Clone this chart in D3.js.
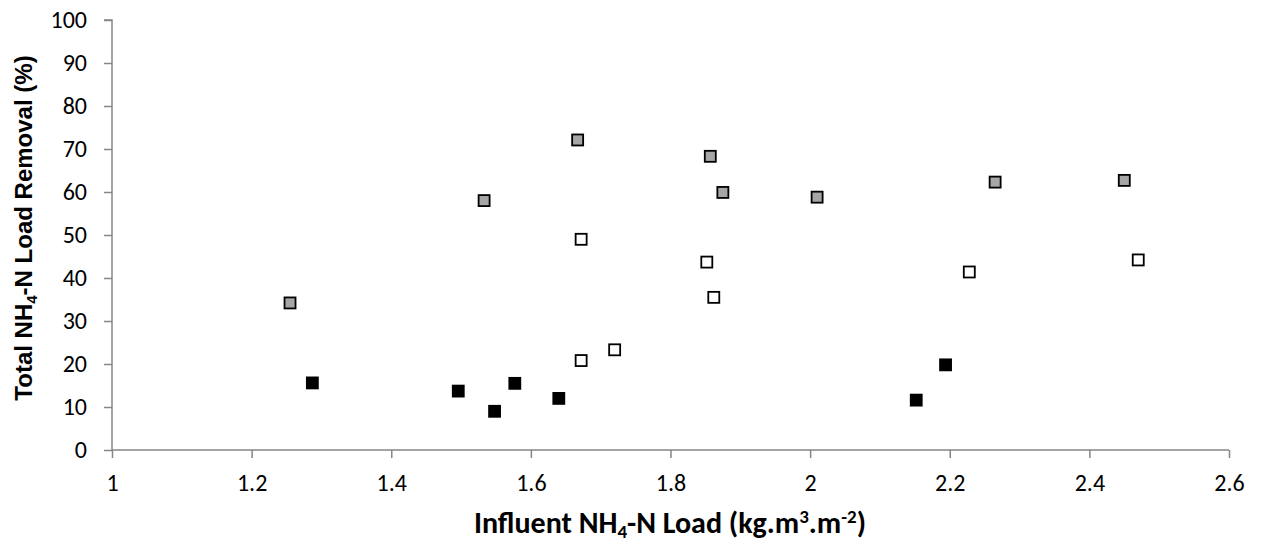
<!DOCTYPE html>
<html>
<head>
<meta charset="utf-8">
<script src="https://cdn.jsdelivr.net/npm/d3@7"></script>
<style>
  body { margin: 0; background: #fff; }
  text { font-family: Carlito, Calibri, Lato, sans-serif; fill: #000; }
</style>
</head>
<body>
<svg class="chart" width="1264" height="543"></svg>
<script>
// series values (x = influent load, y = removal %)
var greyX  = [1.255, 1.533, 1.667, 1.857, 1.875, 2.01, 2.265, 2.45];
var greyY  = [34.2, 58.0, 72.1, 68.3, 59.9, 58.8, 62.3, 62.7];
var whiteX = [1.672, 1.852, 1.862, 1.672, 1.72, 2.228, 2.47];
var whiteY = [49.0, 43.7, 35.5, 20.8, 23.3, 41.4, 44.2];
var blackX = [1.287, 1.496, 1.548, 1.577, 1.64, 2.152, 2.194];
var blackY = [15.6, 13.7, 9.0, 15.5, 12.0, 11.6, 19.8];

// tick labels
var xTicks = [1, 1.2, 1.4, 1.6, 1.8, 2, 2.2, 2.4, 2.6];
var yTicks = [0, 10, 20, 30, 40, 50, 60, 70, 80, 90, 100];

var svg = d3.select("svg.chart");

var x = d3.scaleLinear().domain([1, 2.6]).range([112, 1229]);
var y = d3.scaleLinear().domain([0, 100]).range([450, 20]);

// axes
var xAxis = svg.append("g")
    .attr("transform", "translate(0," + y(0) + ")")
    .call(d3.axisBottom(x).tickValues(xTicks).tickSize(8).tickPadding(16)
        .tickFormat(d3.format("")));
var yAxis = svg.append("g")
    .attr("transform", "translate(" + x(1) + ",0)")
    .call(d3.axisLeft(y).tickValues(yTicks).tickSize(8).tickPadding(17));

[xAxis, yAxis].forEach(function(g) {
    g.attr("font-size", null).attr("font-family", null);
    g.select(".domain").attr("stroke", "#868686").attr("stroke-width", 1.5);
    g.selectAll(".tick line").attr("stroke", "#868686").attr("stroke-width", 1.5);
    g.selectAll(".tick text").style("font-size", "24px")
        .style("font-family", "Carlito, Calibri, Lato, sans-serif").attr("fill", "#000");
});
// plain axis lines, no outer ticks
yAxis.select(".domain").attr("d", "M-8," + y(100) + "H0V" + y(0));
xAxis.select(".domain").attr("d", "M" + x(1) + ",0H" + x(2.6));

// markers
function drawSeries(xs, ys, fill) {
    var pts = xs.map(function(d, i) { return [d, ys[i]]; });
    svg.append("g").selectAll("rect")
        .data(pts)
        .enter()
        .append("rect")
        .attr("x", function(d) { return x(d[0]) - 5.5; })
        .attr("y", function(d) { return y(d[1]) - 5.5; })
        .attr("width", 11)
        .attr("height", 11)
        .attr("fill", fill)
        .attr("stroke", "#000")
        .attr("stroke-width", 1.8);
}
drawSeries(greyX, greyY, "#a6a6a6");
drawSeries(whiteX, whiteY, "#ffffff");
drawSeries(blackX, blackY, "#000000");

// axis titles
var xt = svg.append("text")
    .attr("x", 670).attr("y", 533)
    .attr("text-anchor", "middle")
    .style("font-size", "30px").style("font-weight", "bold");
xt.append("tspan").text("Influent NH");
xt.append("tspan").text("4").attr("dy", 5).style("font-size", "19px");
xt.append("tspan").text("-N Load (kg.m").attr("dy", -5);
xt.append("tspan").text("3").attr("dy", -10).style("font-size", "19px");
xt.append("tspan").text(".m").attr("dy", 10);
xt.append("tspan").text("-2").attr("dy", -10).style("font-size", "19px");
xt.append("tspan").text(")").attr("dy", 10);

var yt = svg.append("text")
    .attr("transform", "translate(32,228) rotate(-90)")
    .attr("text-anchor", "middle")
    .style("font-family", "'Liberation Sans', Arial, sans-serif")
    .style("font-size", "24px").style("font-weight", "bold");
yt.append("tspan").text("Total NH");
yt.append("tspan").text("4").attr("dy", 5).style("font-size", "15px");
yt.append("tspan").text("-N Load Removal (%)").attr("dy", -5);
</script>
</body>
</html>
